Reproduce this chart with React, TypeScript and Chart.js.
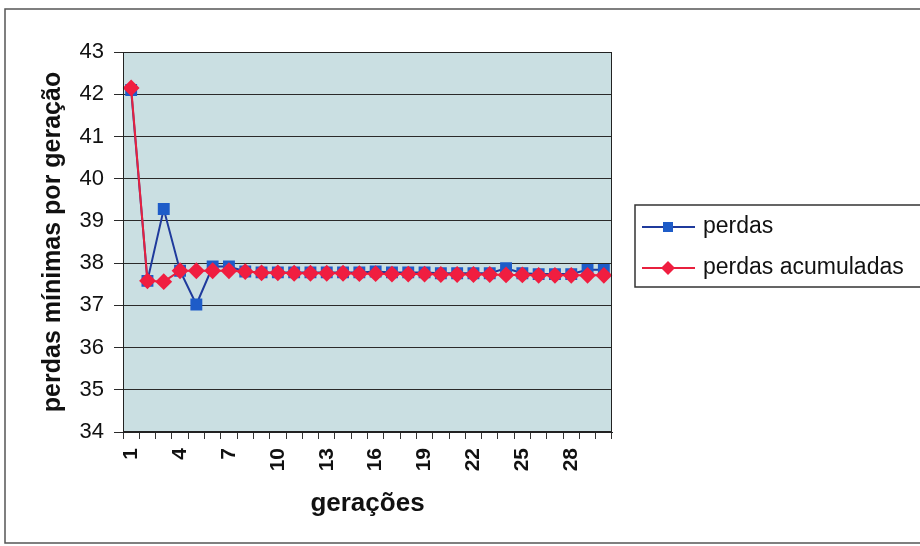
import React, { useEffect, useRef } from "react";
import { Chart, registerables } from "chart.js";

Chart.register(...registerables);

const categories: string[] = Array.from({ length: 30 }, (_, i) => String(i + 1));

const perdas: number[] = [
  42.1, 37.58, 39.28, 37.82, 37.02, 37.92, 37.92, 37.8, 37.78, 37.78,
  37.78, 37.78, 37.78, 37.78, 37.78, 37.8, 37.78, 37.78, 37.78, 37.76,
  37.76, 37.76, 37.76, 37.88, 37.76, 37.74, 37.74, 37.74, 37.84, 37.84,
];

const perdasAcumuladas: number[] = [
  42.15, 37.58, 37.56, 37.82, 37.82, 37.82, 37.82, 37.8, 37.77, 37.77,
  37.76, 37.76, 37.76, 37.76, 37.75, 37.75, 37.74, 37.74, 37.74, 37.73,
  37.73, 37.73, 37.73, 37.72, 37.72, 37.71, 37.71, 37.71, 37.71, 37.71,
];

const seriesLabels = ["perdas", "perdas acumuladas"];
const yTitle = "perdas mínimas por geração";
const xTitle = "gerações";

const FONT = "'Liberation Sans', Arial, sans-serif";

const framePlugin = {
  id: "frame",
  beforeDraw(chart: any) {
    const { ctx, chartArea } = chart;
    ctx.save();
    ctx.fillStyle = "#ffffff";
    ctx.fillRect(0, 0, chart.width, chart.height);
    ctx.fillStyle = "#cadfe2";
    ctx.fillRect(chartArea.left, chartArea.top, chartArea.right - chartArea.left, chartArea.bottom - chartArea.top);
    // outer frame
    ctx.strokeStyle = "#555";
    ctx.lineWidth = 1.5;
    ctx.beginPath();
    ctx.moveTo(925, 9);
    ctx.lineTo(5, 9);
    ctx.lineTo(5, 543);
    ctx.lineTo(925, 543);
    ctx.stroke();
    ctx.restore();
  },
  afterDraw(chart: any) {
    const { ctx, chartArea } = chart;
    ctx.save();
    ctx.strokeStyle = "#222";
    ctx.lineWidth = 1;
    ctx.strokeRect(chartArea.left + 0.5, chartArea.top + 0.5, chartArea.right - chartArea.left - 1, chartArea.bottom - chartArea.top - 1);

    // legend
    ctx.strokeStyle = "#333";
    ctx.lineWidth = 1.5;
    ctx.strokeRect(635, 205, 300, 82);
    const items = chart.data.datasets;
    const ys = [227, 268];
    items.forEach((ds: any, i: number) => {
      const y = ys[i];
      ctx.strokeStyle = ds.borderColor;
      ctx.lineWidth = 2;
      ctx.beginPath();
      ctx.moveTo(642, y);
      ctx.lineTo(695, y);
      ctx.stroke();
      ctx.fillStyle = ds.pointBackgroundColor;
      if (ds.pointStyle === "rect") {
        ctx.fillRect(663, y - 5, 10, 10);
      } else {
        ctx.beginPath();
        ctx.moveTo(668, y - 7);
        ctx.lineTo(675, y);
        ctx.lineTo(668, y + 7);
        ctx.lineTo(661, y);
        ctx.closePath();
        ctx.fill();
      }
      ctx.fillStyle = "#111";
      ctx.font = `23px ${FONT}`;
      ctx.textBaseline = "middle";
      ctx.textAlign = "left";
      ctx.fillText(ds.label, 703, y);
    });
    ctx.restore();
  },
};

export default function App() {
  const ref = useRef<HTMLCanvasElement | null>(null);
  useEffect(() => {
    if (!ref.current) return;
    const chart = new Chart(ref.current, {
      type: "line",
      data: {
        labels: categories,
        datasets: [
          {
            label: seriesLabels[0],
            data: perdas,
            order: 1,
            borderColor: "#1f3a9c",
            backgroundColor: "#1e5cc8",
            pointBackgroundColor: "#1e5cc8",
            pointBorderColor: "#1e5cc8",
            pointStyle: "rect",
            pointRadius: 7,
            borderWidth: 2,
            tension: 0,
          },
          {
            label: seriesLabels[1],
            data: perdasAcumuladas,
            order: 0,
            borderColor: "#e8203e",
            backgroundColor: "#f01e40",
            pointBackgroundColor: "#f01e40",
            pointBorderColor: "#f01e40",
            pointStyle: "rectRot",
            pointRadius: 7,
            borderWidth: 2,
            tension: 0,
          },
        ],
      },
      options: {
        responsive: false,
        animation: false,
        layout: { padding: { left: 0, top: 52, right: 308, bottom: 0 } },
        plugins: {
          legend: { display: false },
          tooltip: { enabled: false },
        },
        scales: {
          x: {
            type: "category",
            offset: true,
            afterFit: (s: any) => {
              s.height = 114;
            },
            grid: {
              offset: true,
              drawOnChartArea: false,
              drawTicks: true,
              tickLength: 7,
              color: "#333",
            },
            border: { color: "#222" },
            ticks: {
              autoSkip: false,
              minRotation: 90,
              maxRotation: 90,
              padding: 9,
              color: "#111",
              font: { family: FONT, size: 21, weight: "bold" },
              callback: (_v: any, i: number) => (i % 3 === 0 ? categories[i] : ""),
            },
            title: {
              display: true,
              text: xTitle,
              color: "#111",
              font: { family: FONT, size: 26, weight: "bold" },
              padding: { top: 0, bottom: 27 },
            },
          },
          y: {
            min: 34,
            max: 43,
            afterFit: (s: any) => {
              s.width = 123;
            },
            grid: {
              color: "#2a2a2a",
              lineWidth: 1,
              tickLength: 9,
            },
            border: { color: "#222" },
            ticks: {
              stepSize: 1,
              padding: 10,
              color: "#111",
              font: { family: FONT, size: 22 },
            },
            title: {
              display: true,
              text: yTitle,
              color: "#111",
              font: { family: FONT, size: 25, weight: "bold" },
              padding: { top: 38, bottom: 0 },
            },
          },
        },
      },
      plugins: [framePlugin],
    });
    return () => chart.destroy();
  }, []);
  return (
    <div style={{ position: "fixed", left: 0, top: 0, width: 920, height: 546, background: "#fff" }}>
      <canvas ref={ref} width={920} height={546} style={{ display: "block" }} />
    </div>
  );
}
